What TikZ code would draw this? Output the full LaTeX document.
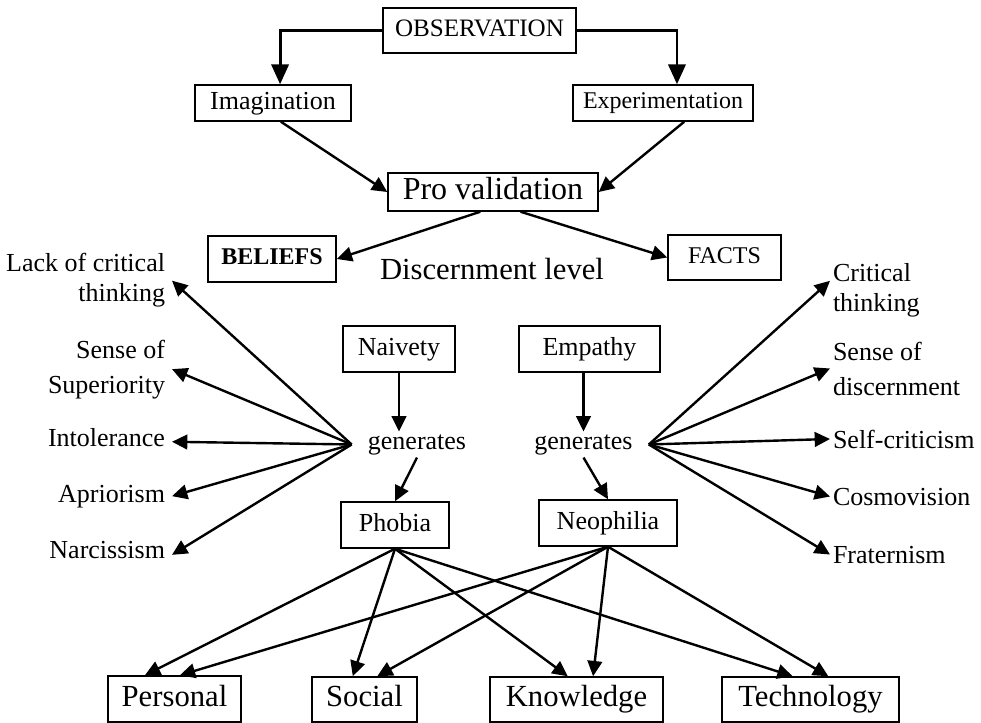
\documentclass[tikz,border=0pt]{standalone}
\usepackage{fontspec}
\setmainfont{Liberation Serif}
\usetikzlibrary{arrows.meta,calc}

\begin{document}
\begin{tikzpicture}[x=0.75pt,y=-0.75pt,
  fs/.style={font=\fontsize{#1}{24pt}\selectfont},
  box/.style={draw, line width=1.1pt, inner sep=0pt},
  bx18/.style={box, fs=18, text height=12.3pt, text depth=3.9pt},
  bx19/.style={box, fs=19.5, text height=13.3pt, text depth=4.2pt},
  bx23/.style={box, fs=23, text height=15.7pt, text depth=5pt},
  bx24/.style={box, fs=24, text height=16.4pt, text depth=5.2pt},
  lbl/.style={inner sep=0pt, outer ysep=0pt, fs=19.5},
  lft/.style={lbl, align=right, anchor=base east, outer xsep=5.25pt},
  rgt/.style={lbl, align=left, anchor=base west, outer xsep=2.25pt},
  gen/.style={fs=19.5, inner xsep=12pt, inner ysep=2pt, anchor=base},
  arr/.style={line width=1.8pt, -{Triangle[length=11.5pt,width=11pt]}},
  bigarr/.style={line width=2.2pt, -{Triangle[length=15pt,width=13pt]}},
]
\useasboundingbox (0,0) rectangle (981,723);

% upper chain
\node[bx18, fs=18.8, minimum width=144.75pt, minimum height=33.75pt] (obs) at (479.5,30.5) {OBSERVATION};
\node[bx19, minimum width=117pt, minimum height=27pt] (imag) at (273,103) {Imagination};
\node[bx18, minimum width=135pt, minimum height=27pt] (exper) at (663,103) {Experimentation};
\node[bx24, minimum width=157.5pt, minimum height=28.5pt] (pro) at (493,192) {Pro validation};
\node[bx18, font=\fontsize{18}{24pt}\selectfont\bfseries, minimum width=96pt, minimum height=34.5pt] (bel) at (272,259) {BELIEFS};
\node[bx18, minimum width=84.75pt, minimum height=33.75pt] (facts) at (724.5,257.5) {FACTS};
\node[lbl, fs=23, anchor=base] (dlevel) at (492,280) {Discernment level};

% middle boxes
\node[bx19, minimum width=84pt, minimum height=34.5pt] (naiv) at (399,349) {Naivety};
\node[bx19, minimum width=105.75pt, minimum height=34.5pt] (emp) at (589.5,349) {Empathy};
\node[gen] (genL) at (417,449) {generates};
\node[gen] (genR) at (583.5,449) {generates};
\node[bx19, minimum width=81pt, minimum height=34.5pt] (phob) at (395,525) {Phobia};
\node[bx19, minimum width=103.5pt, minimum height=34.5pt] (neo) at (608,523) {Neophilia};

% left outcomes (placed by the baseline of their last line)
\node[lft, font=\fontsize{19.5}{22.5pt}\selectfont] (lack) at (172,302) {Lack of critical\\thinking};
\node[lft, font=\fontsize{19.5}{26.25pt}\selectfont] (sup) at (172,393) {Sense of\\Superiority};
\node[lft] (intol) at (172,446) {Intolerance};
\node[lft] (aprio) at (172,502) {Apriorism};
\node[lft] (narc) at (172,558) {Narcissism};

% right outcomes
\node[rgt, font=\fontsize{19.5}{22.5pt}\selectfont] (crit) at (830,312) {Critical\\thinking};
\node[rgt, font=\fontsize{19.5}{26.25pt}\selectfont] (sdisc) at (830,395) {Sense of\\discernment};
\node[rgt] (selfc) at (830,448) {Self-criticism};
\node[rgt] (cosmo) at (830,505) {Cosmovision};
\node[rgt] (frat) at (830,563) {Fraternism};

% bottom areas
\node[bx23, minimum width=99.75pt, minimum height=34.5pt] (pers) at (174.5,699) {Personal};
\node[bx23, minimum width=78.75pt, minimum height=33.75pt] (soc) at (364.5,699.5) {Social};
\node[bx23, minimum width=129.75pt, minimum height=33.75pt] (know) at (576.5,699.5) {Knowledge};
\node[bx23, minimum width=132.75pt, minimum height=33.75pt] (tech) at (810.5,699.5) {Technology};

% connectors: top
\draw[bigarr] (obs.west) -| ($(imag.north west)!.545!(imag.north east)$);
\draw[bigarr] (obs.east) -| ($(exper.north west)!.577!(exper.north east)$);
\draw[arr] ($(imag.south west)!.55!(imag.south east)$) -- (pro.west);
\draw[arr] ($(exper.south west)!.617!(exper.south east)$) -- (pro.east);
\draw[arr] ($(pro.south west)!.44!(pro.south east)$) -- (bel.east);
\draw[arr] ($(pro.south west)!.63!(pro.south east)$) -- (facts.west);

% connectors: middle
\draw[arr] (naiv.south) -- (naiv.south |- genL.north);
\draw[arr] (emp.south -| genR.north) -- (genR.north);
\draw[arr] (genL.south) -- (phob.north);
\draw[arr] (genR.south) -- (neo.north);

% left fan
\draw[arr] (genL.west) -- (lack.east);
\draw[arr] (genL.west) -- (sup.east);
\draw[arr] (genL.west) -- ([yshift=-3.5pt]intol.east);
\draw[arr] (genL.west) -- (aprio.east);
\draw[arr] (genL.west) -- ([yshift=-4pt]narc.east);

% right fan
\draw[arr] (genR.east) -- ([yshift=7.5pt]crit.west);
\draw[arr] (genR.east) -- (sdisc.west);
\draw[arr] (genR.east) -- (selfc.west);
\draw[arr] (genR.east) -- (cosmo.west);
\draw[arr] (genR.east) -- (frat.west);

% bottom fan
\draw[arr] (phob.south) -- ($(pers.north west)!.28!(pers.north east)$);
\draw[arr] (phob.south) -- ($(soc.north west)!.39!(soc.north east)$);
\draw[arr] (phob.south) -- ($(know.north west)!.45!(know.north east)$);
\draw[arr] (phob.south) -- ($(tech.north west)!.40!(tech.north east)$);
\draw[arr] (neo.south) -- ($(pers.north west)!.54!(pers.north east)$);
\draw[arr] (neo.south) -- ($(soc.north west)!.62!(soc.north east)$);
\draw[arr] (neo.south) -- ($(know.north west)!.595!(know.north east)$);
\draw[arr] (neo.south) -- ($(tech.north west)!.60!(tech.north east)$);
\end{tikzpicture}
\end{document}
